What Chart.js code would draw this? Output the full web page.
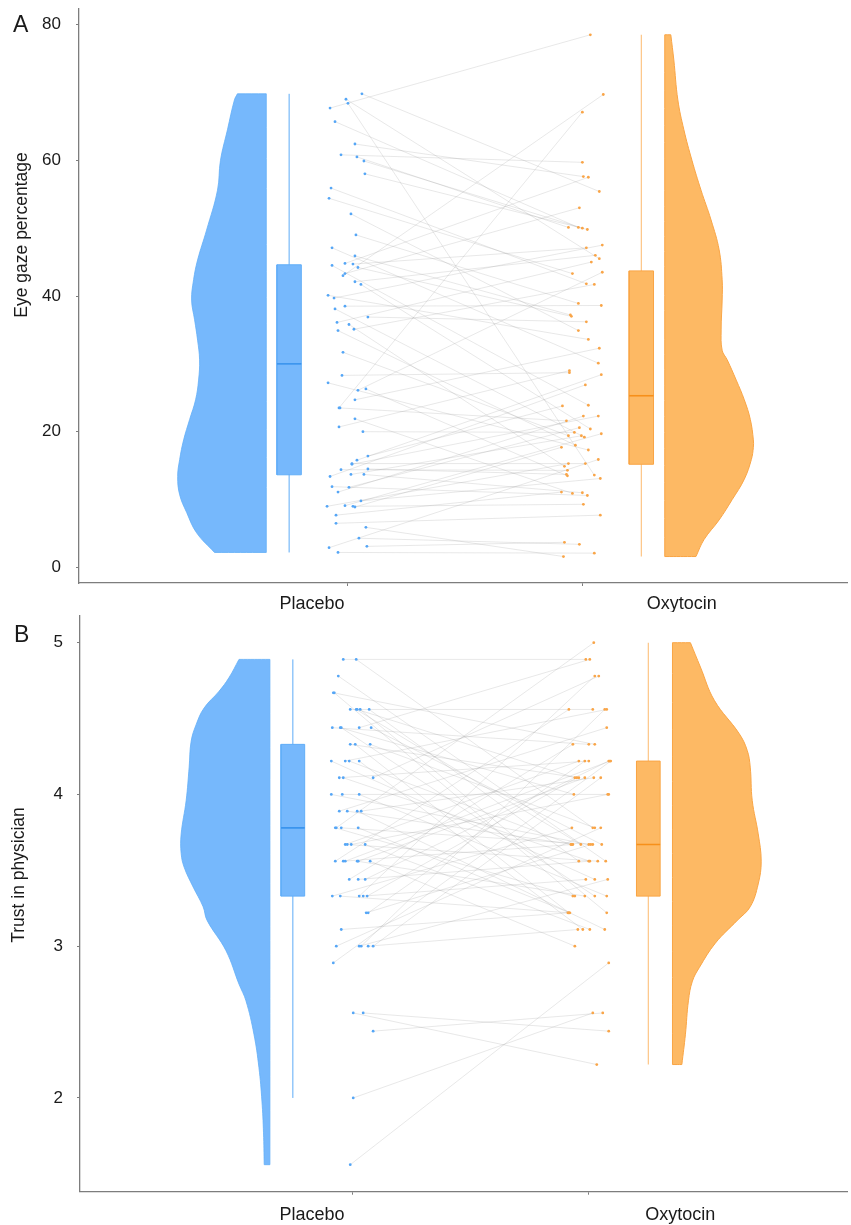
<!DOCTYPE html>
<html><head><meta charset="utf-8">
<script src="https://cdn.jsdelivr.net/npm/chart.js@4.4.1/dist/chart.umd.min.js"></script>
<style>
html,body{margin:0;padding:0;background:#fff;}
#wrap{position:relative;width:851px;height:1225px;}
.panel{position:absolute;left:0;width:851px;}
</style></head><body>
<div id="wrap">
<div class="panel" style="top:0;height:612px"><canvas id="cA"></canvas></div>
<div class="panel" style="top:612px;height:613px"><canvas id="cB"></canvas></div>
</div>
<script>
// ---------------- DATA ----------------
const categories = ['Placebo', 'Oxytocin'];
const yTicksA = [0, 20, 40, 60, 80];
const yTicksB = [2, 3, 4, 5];

// Panel A: eye gaze percentage, paired by participant
const eyePlacebo = [69.8,69.0,68.4,67.7,65.7,62.4,60.8,60.5,59.9,58.0,55.9,54.4,52.1,49.0,47.1,45.9,44.5,44.8,44.7,44.2,43.3,43.0,42.1,41.7,40.1,39.7,38.5,38.1,36.9,36.1,35.8,34.9,35.1,31.7,28.3,27.2,26.1,26.3,24.7,23.5,23.5,21.9,20.7,20.0,16.4,15.8,15.3,15.2,14.4,13.7,13.7,14.5,13.4,11.9,11.8,11.1,9.0,9.1,9.0,8.9,9.8,7.7,6.5,5.9,4.3,3.1,2.9,2.2];
const eyeOxytocin = [55.4,45.5,13.6,78.5,50.1,57.6,59.7,50.1,50.0,49.8,41.8,43.3,34.9,38.9,30.1,37.2,23.9,57.5,47.1,37.0,53.0,69.7,46.0,20.4,33.6,47.5,38.6,19.2,36.2,45.0,14.9,18.0,41.7,19.4,28.7,17.3,43.5,13.5,32.3,67.1,21.6,10.9,29.0,19.9,23.8,28.4,15.3,22.3,14.3,19.4,11.0,13.7,26.9,10.6,20.6,22.3,15.3,19.7,9.3,17.7,13.1,11.1,7.7,1.6,3.4,3.7,15.9,2.1];
const eyePlaceboJitter = [14,-2,0,-18,-13,7,-7,9,16,17,-17,-19,3,8,-16,7,-16,-3,5,10,-3,-5,7,13,-20,-14,-3,-13,20,-11,1,-10,6,-5,-6,-20,10,18,7,-9,-8,7,-9,15,20,9,4,4,-7,3,16,20,-18,-16,1,-10,-21,-3,5,7,13,-12,-12,18,11,19,-19,-10];
const eyeOxytocinJitter = [17,17,12,8,-4,1,0,-14,0,5,4,-10,-4,-4,16,-12,6,6,4,-11,-3,21,13,8,6,20,19,2,4,9,-18,-7,12,-14,-13,6,20,-15,17,0,-16,-10,-13,-8,-20,19,3,16,-15,-1,0,-16,3,5,-3,1,-14,19,1,-21,18,-21,18,-19,-3,-18,16,12];
// box stats [min, q1, median, q3, max]
const eyeBoxPlacebo = [2.2, 13.65, 30.0, 44.6, 69.8];
const eyeBoxOxytocin = [1.6, 15.2, 25.3, 43.7, 78.5];
// half-violin density profiles (value levels, relative density)
const eyeViolinPlaceboY = [69.8,68.9,64.5,60.0,55.6,49.7,45.3,42.4,39.4,36.5,33.5,30.6,27.6,24.7,21.8,18.8,15.9,13.4,10.7,8.1,5.1,2.2];
const eyeViolinPlaceboD = [29,32,39,46,49,60,69,73,75,72,69,67,68,71,77,83,87,89,87,80,70,52];
const eyeViolinOxytocinY = [78.5,74.8,68.9,64.5,60.0,55.6,51.2,46.8,42.4,39.4,35.0,32.0,30.6,27.6,24.7,21.8,18.8,17.7,15.9,13.0,10.0,7.0,4.1,1.6];
const eyeViolinOxytocinD = [6,9,13,19,27,36,46,54,57,57,56,57,62,71,79,85,88,88,86,79,67,54,39,31];

// Panel B: trust in physician, paired by participant
const trustPlacebo = [4.89,4.89,4.78,4.67,4.67,4.56,4.56,4.56,4.56,4.56,4.44,4.44,4.44,4.44,4.44,4.33,4.33,4.33,4.22,4.22,4.22,4.22,4.11,4.11,4.11,4.00,4.00,4.00,3.89,3.89,3.89,3.89,3.78,3.78,3.78,3.78,3.67,3.67,3.67,3.67,3.56,3.56,3.56,3.56,3.56,3.56,3.44,3.44,3.44,3.33,3.33,3.33,3.33,3.33,3.22,3.22,3.11,3.00,3.00,3.00,3.00,3.00,2.89,2.56,2.56,2.44,2.00,1.56];
const trustOxytocin = [4.89,3.78,3.56,4.33,3.33,4.56,3.67,4.11,3.22,3.56,4.33,4.00,3.33,4.89,3.67,4.11,3.22,3.78,3.44,4.56,3.67,3.11,4.22,3.56,4.78,3.67,4.00,3.33,4.44,3.67,3.11,4.11,3.33,5.00,3.67,3.22,4.22,3.56,4.00,3.11,4.56,3.67,4.22,3.33,4.11,3.00,4.33,3.56,4.22,3.78,3.22,4.78,3.44,4.11,3.67,4.22,3.22,3.78,3.44,4.56,3.11,4.11,4.22,2.22,2.44,2.56,2.56,2.89];
const trustPlaceboJitter = [-9,4,-14,-19,-18,-2,4,5,8,17,-20,-12,-11,7,19,-2,3,18,-21,-7,-3,7,-13,-9,21,-21,-10,7,-13,-5,5,9,-17,-16,-11,6,-7,-5,-1,13,-17,-9,-7,5,6,18,-3,6,13,-20,-12,7,11,15,14,16,-11,-16,7,9,16,21,-19,1,11,21,1,-2];
const trustOxytocinJitter = [-3,4,17,6,-14,4,-8,-14,18,-10,0,-15,6,1,13,-10,-20,6,6,18,-18,-6,0,1,10,0,20,18,18,-16,16,5,-16,5,4,-19,-10,9,19,1,-20,-17,21,-4,-4,-14,-16,0,20,-17,-20,6,-3,-12,2,-4,-21,12,19,16,-11,12,22,8,20,14,4,20];
const trustBoxPlacebo = [2.0, 3.33, 3.78, 4.33, 4.89];
const trustBoxOxytocin = [2.22, 3.33, 3.67, 4.22, 5.0];
const trustViolinPlaceboY = [4.89,4.77,4.68,4.57,4.46,4.35,4.18,3.96,3.74,3.61,3.52,3.39,3.26,3.17,2.97,2.75,2.64,2.42,2.20,1.98,1.77,1.56];
const trustViolinPlaceboD = [31,41,51,66,74,79,81,84,89,89,86,77,67,63,44,31,24,16,11,8,6.4,5.7];
const trustViolinOxytocinY = [5.00,4.84,4.62,4.40,4.29,4.18,3.96,3.74,3.56,3.41,3.26,3.17,3.02,2.86,2.77,2.64,2.42,2.22];
const trustViolinOxytocinD = [18,28,42,67,75,78,80,86,89,86,78,65,43,27,20,16,13,9.4];

// ---------------- STYLE ----------------
const FONT = '"Liberation Sans", Arial, Helvetica, sans-serif';
Chart.defaults.font.family = FONT;
const AXIS = '#7d7d7d';
const TXT = '#1a1a1a';
const C = {
  plaFill: '#76B8FC', plaLine: '#62AEF8', plaMed: '#3A94EE', plaWhisk: '#5DABF7', plaPt: '#55A6F6',
  oxyFill: '#FDB964', oxyLine: '#F9A545', oxyMed: '#F7901A', oxyWhisk: '#FDC585', oxyPt: '#F9A548',
  pair: 'rgba(140,140,140,0.2)'
};

const panelText = {
  id: 'panelText',
  afterDraw(chart, args, o) {
    const c = chart.ctx;
    c.save();
    c.fillStyle = TXT;
    c.font = '23px ' + FONT;
    c.textAlign = 'left'; c.textBaseline = 'alphabetic';
    c.fillText(o.letter, o.letterX, o.letterY);
    c.translate(o.titleX, o.titleY);
    c.rotate(-Math.PI / 2);
    c.font = '17.5px ' + FONT;
    c.textAlign = 'center'; c.textBaseline = 'middle';
    c.fillText(o.title, 0, 0);
    c.restore();
  }
};

function violinPath(ys, ds, edge, dir, width) {
  const m = Math.max(...ds);
  const prof = ys.map((y, i) => ({x: edge + dir * ds[i] / m * width, y}));
  const top = {x: edge, y: ys[0]}, bot = {x: edge, y: ys[ys.length - 1]};
  const f = prof[0], l = prof[prof.length - 1];
  return [top, top, f, ...prof, l, bot, bot, top, top];
}
function boxPath(c, hw, s) {
  return [{x:c-hw,y:s[1]},{x:c+hw,y:s[1]},{x:c+hw,y:s[3]},{x:c-hw,y:s[3]},{x:c-hw,y:s[1]}];
}
function zeroPad(s) { s.paddingTop = 0; s.paddingBottom = 0; s.paddingLeft = 0; s.paddingRight = 0; }

function makeChart(id, P) {
  const plaPts = P.pla.map((v, i) => ({x: 1 + P.plaJ[i] * P.jit, y: v}));
  const oxyPts = P.oxy.map((v, i) => ({x: 2 + P.oxyJ[i] * P.jit, y: v}));
  const pairs = [];
  for (let i = 0; i < plaPts.length; i++) pairs.push(plaPts[i], oxyPts[i], {x: null, y: null});
  const lineBase = {type: 'line', pointRadius: 0, pointHoverRadius: 0, tension: 0, spanGaps: false};
  const datasets = [
    {type: 'scatter', data: plaPts, pointRadius: 1.4, pointBackgroundColor: C.plaPt, backgroundColor: C.plaPt, pointBorderWidth: 0, order: 0},
    {type: 'scatter', data: oxyPts, pointRadius: 1.4, pointBackgroundColor: C.oxyPt, backgroundColor: C.oxyPt, pointBorderWidth: 0, order: 0},
    {...lineBase, data: [{x: P.boxP - P.boxHW, y: P.bP[2]}, {x: P.boxP + P.boxHW, y: P.bP[2]}], borderColor: C.plaMed, borderWidth: 1.6, order: 1},
    {...lineBase, data: [{x: P.boxO - P.boxHW, y: P.bO[2]}, {x: P.boxO + P.boxHW, y: P.bO[2]}], borderColor: C.oxyMed, borderWidth: 1.6, order: 1},
    {...lineBase, data: boxPath(P.boxP, P.boxHW, P.bP), fill: 'shape', backgroundColor: C.plaFill, borderColor: C.plaLine, borderWidth: 1, order: 2},
    {...lineBase, data: boxPath(P.boxO, P.boxHW, P.bO), fill: 'shape', backgroundColor: C.oxyFill, borderColor: C.oxyLine, borderWidth: 1, order: 2},
    {...lineBase, data: [{x: P.boxP, y: P.bP[0]}, {x: P.boxP, y: P.bP[4]}], borderColor: C.plaWhisk, borderWidth: 1, order: 3},
    {...lineBase, data: [{x: P.boxO, y: P.bO[0]}, {x: P.boxO, y: P.bO[4]}], borderColor: C.oxyWhisk, borderWidth: 1.2, order: 3},
    {...lineBase, data: violinPath(P.vPY, P.vPD, P.edgeP, -1, P.vw), fill: 'shape', tension: 0.4, backgroundColor: C.plaFill, borderColor: C.plaLine, borderWidth: 0.8, order: 4},
    {...lineBase, data: violinPath(P.vOY, P.vOD, P.edgeO, 1, P.vw), fill: 'shape', tension: 0.4, backgroundColor: C.oxyFill, borderColor: C.oxyLine, borderWidth: 1, order: 4},
    {...lineBase, data: pairs, borderColor: C.pair, borderWidth: 1, order: 5}
  ];
  return new Chart(document.getElementById(id), {
    type: 'scatter',
    data: {datasets},
    plugins: [panelText],
    options: {
      responsive: true, maintainAspectRatio: false, animation: false, events: [],
      layout: {padding: {left: 0, right: 1, top: P.padTop, bottom: 0}},
      plugins: {legend: {display: false}, tooltip: {enabled: false},
        panelText: {letter: P.letter, letterX: P.letterX, letterY: P.letterY, title: P.title, titleX: P.titleX, titleY: P.titleY}},
      scales: {
        x: {type: 'linear', position: 'bottom', min: P.xmin, max: P.xmax, weight: 0,
          afterBuildTicks: s => { s.ticks = [1, 2].map(v => ({value: v})); },
          ticks: {display: false},
          grid: {drawOnChartArea: false, drawTicks: true, tickLength: 3, color: AXIS, lineWidth: 1},
          border: {display: true, color: AXIS, width: 1.3},
          afterFit: s => { s.height = 4; zeroPad(s); }},
        xl: {type: 'linear', position: 'bottom', min: P.xmin, max: P.xmax, weight: 1,
          afterBuildTicks: s => { s.ticks = P.labelPos.map(v => ({value: v})); },
          ticks: {autoSkip: false, maxRotation: 0, minRotation: 0, padding: P.labPad, color: TXT,
            font: {size: 18, family: FONT}, callback: (v, i) => categories[i]},
          grid: {display: false, drawTicks: false}, border: {display: false},
          afterFit: s => { s.height = P.xlH; zeroPad(s); }},
        y: {type: 'linear', min: P.ymin, max: P.ymax,
          afterBuildTicks: s => { s.ticks = P.yTicks.map(v => ({value: v})); },
          ticks: {padding: P.yPad, color: TXT, font: {size: 17, family: FONT}},
          grid: {drawOnChartArea: false, drawTicks: true, tickLength: 3, color: AXIS},
          border: {display: true, color: AXIS, width: 1.3},
          afterFit: s => { s.width = P.yW; zeroPad(s); }}
      }
    }
  });
}

makeChart('cA', {
  pla: eyePlacebo, oxy: eyeOxytocin, plaJ: eyePlaceboJitter, oxyJ: eyeOxytocinJitter, jit: 1 / 235.3,
  bP: eyeBoxPlacebo, bO: eyeBoxOxytocin, boxP: 0.749, boxO: 2.2516, boxHW: 0.052,
  vPY: eyeViolinPlaceboY, vPD: eyeViolinPlaceboD, vOY: eyeViolinOxytocinY, vOD: eyeViolinOxytocinD,
  edgeP: 0.6515, edgeO: 2.3515, vw: 0.378,
  xmin: -0.1475, xmax: 3.129, ymin: -2.3, ymax: 82.3, yTicks: yTicksA,
  labelPos: [0.847, 2.4237], labPad: 5.9, xlH: 25, padTop: 9, yW: 79, yPad: 15,
  letter: 'A', letterX: 13, letterY: 32.3, title: 'Eye gaze percentage', titleX: 22, titleY: 235
});
makeChart('cB', {
  pla: trustPlacebo, oxy: trustOxytocin, plaJ: trustPlaceboJitter, oxyJ: trustOxytocinJitter, jit: 1 / 237.5,
  bP: trustBoxPlacebo, bO: trustBoxOxytocin, boxP: 0.749, boxO: 2.2516, boxHW: 0.05,
  vPY: trustViolinPlaceboY, vPD: trustViolinPlaceboD, vOY: trustViolinOxytocinY, vOD: trustViolinOxytocinD,
  edgeP: 0.652, edgeO: 2.3537, vw: 0.375,
  xmin: -0.1507, xmax: 3.0914, ymin: 1.382, ymax: 5.176, yTicks: yTicksB,
  labelPos: [0.830, 2.3865], labPad: 8.7, xlH: 29.3, padTop: 3, yW: 80, yPad: 14,
  letter: 'B', letterX: 14, letterY: 29.7, title: 'Trust in physician', titleX: 19, titleY: 263
});
</script>
</body></html>
